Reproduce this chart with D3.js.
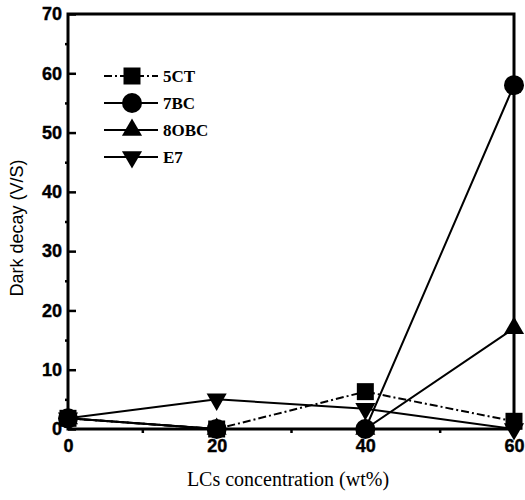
<!DOCTYPE html>
<html>
<head>
<meta charset="utf-8">
<script src="https://cdn.jsdelivr.net/npm/d3@7"></script>
<style>
  html, body { margin: 0; padding: 0; background: #fff; }
  svg { display: block; }
</style>
</head>
<body>
<script>
// ---- data ----
const concentrations = [0, 20, 40, 60];
const series5CT  = [1.8, 0, 6.3, 1.3];
const series7BC  = [1.8, 0, 0, 58];
const series8OBC = [1.8, 0, 0, 17];
const seriesE7   = [1.8, 5, 3.4, 0];
const seriesNames = ["5CT", "7BC", "8OBC", "E7"];
const yMajorTicks = [0, 10, 20, 30, 40, 50, 60, 70];
const yMinorTicks = [5, 15, 25, 35, 45, 55, 65];
const xMajorTicks = [0, 20, 40, 60];
const xMinorTicks = [10, 30, 50];
const xTitle = "LCs concentration (wt%)";
const yTitle = "Dark decay (V/S)";

// ---- layout ----
const W = 525, H = 500;
const plotLeft = 68, plotRight = 514, plotTop = 14, plotBottom = 429;

const svg = d3.select("body").append("svg").attr("width", W).attr("height", H);

const x = d3.scaleLinear().domain([0, 60]).range([plotLeft, plotRight]);
const y = d3.scaleLinear().domain([0, 70]).range([plotBottom, plotTop]);

const seriesList = [
  { name: seriesNames[0], values: series5CT,  symbol: "square",   dash: "8,3,2,3" },
  { name: seriesNames[1], values: series7BC,  symbol: "circle",   dash: null },
  { name: seriesNames[2], values: series8OBC, symbol: "triUp",    dash: null },
  { name: seriesNames[3], values: seriesE7,   symbol: "triDown",  dash: null }
];

function symbolPath(kind) {
  if (kind === "square") return d3.symbol(d3.symbolSquare, 289)();
  if (kind === "circle") return d3.symbol(d3.symbolCircle, 314)();
  return d3.symbol(d3.symbolTriangle, 175)();
}
function symbolTransform(kind, px, py) {
  return kind === "triDown" ? `translate(${px},${py}) rotate(180)` : `translate(${px},${py})`;
}

// ---- axes ----
const tickFont = "'Liberation Sans', Arial, sans-serif";

const yAxis = svg.append("g").attr("transform", `translate(${plotLeft},0)`)
  .call(d3.axisLeft(y).tickValues(yMajorTicks).tickSize(-8).tickPadding(6).tickFormat(d3.format("d")));
const yMinor = svg.append("g").attr("transform", `translate(${plotLeft},0)`)
  .call(d3.axisLeft(y).tickValues(yMinorTicks).tickSize(3).tickFormat(""));
const xAxis = svg.append("g").attr("transform", `translate(0,${plotBottom})`)
  .call(d3.axisBottom(x).tickValues(xMajorTicks).tickSize(-8).tickPadding(10).tickFormat(d3.format("d")));
const xMinor = svg.append("g").attr("transform", `translate(0,${plotBottom})`)
  .call(d3.axisBottom(x).tickValues(xMinorTicks).tickSize(4).tickFormat(""));

[yAxis, yMinor, xAxis, xMinor].forEach(g => {
  g.select(".domain").remove();
  g.selectAll(".tick line").attr("stroke", "#000").attr("stroke-width", 2.5);
  g.selectAll(".tick text")
    .attr("fill", "#000")
    .attr("stroke", "#000")
    .attr("stroke-width", 0.4)
    .style("font-family", tickFont)
    .style("font-weight", "bold")
    .style("font-size", "18px");
});

// frame
svg.append("rect")
  .attr("x", plotLeft).attr("y", plotTop)
  .attr("width", plotRight - plotLeft).attr("height", plotBottom - plotTop)
  .attr("fill", "none").attr("stroke", "#000").attr("stroke-width", 3);

// ---- series lines ----
const line = d3.line().x((d, i) => x(concentrations[i])).y(d => y(d));

seriesList.forEach(s => {
  svg.append("path")
    .attr("d", line(s.values))
    .attr("fill", "none")
    .attr("stroke", "#000")
    .attr("stroke-width", 2)
    .attr("stroke-dasharray", s.dash);
});

seriesList.forEach(s => {
  svg.append("g").selectAll("path")
    .data(s.values)
    .join("path")
    .attr("d", symbolPath(s.symbol))
    .attr("transform", (d, i) => symbolTransform(s.symbol, x(concentrations[i]), y(d)))
    .attr("fill", "#000");
});

// ---- legend ----
const legend = svg.append("g");
const legRow0 = 76, legStep = 27;
seriesList.forEach((s, i) => {
  const ly = legRow0 + i * legStep;
  legend.append("line")
    .attr("x1", 104).attr("x2", 158).attr("y1", ly).attr("y2", ly)
    .attr("stroke", "#000").attr("stroke-width", 2)
    .attr("stroke-dasharray", s.dash);
  legend.append("path")
    .attr("d", symbolPath(s.symbol))
    .attr("transform", symbolTransform(s.symbol, 132, ly))
    .attr("fill", "#000");
  legend.append("text")
    .attr("x", 163).attr("y", ly)
    .attr("dy", "0.35em")
    .style("font-family", "'Liberation Serif', 'Times New Roman', serif")
    .style("font-weight", "bold")
    .style("font-size", "17px")
    .text(s.name);
});

// ---- titles ----
svg.append("text")
  .attr("x", (plotLeft + plotRight) / 2 - 3).attr("y", 486)
  .attr("text-anchor", "middle")
  .style("font-family", "'Liberation Serif', 'Times New Roman', serif")
  .style("font-size", "20px")
  .text(xTitle);

svg.append("text")
  .attr("transform", `translate(23,${228}) rotate(-90)`)
  .attr("text-anchor", "middle")
  .style("font-family", "'Liberation Sans', Arial, sans-serif")
  .style("font-size", "18px")
  .text(yTitle);
</script>
</body>
</html>
